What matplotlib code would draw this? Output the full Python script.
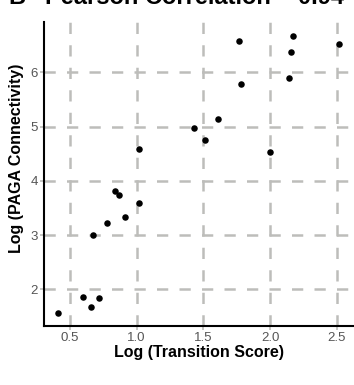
import matplotlib
matplotlib.use('Agg')
from matplotlib import pyplot as plt

plt.rcParams['font.family'] = ['Liberation Sans', 'DejaVu Sans']

# Log transition score vs log PAGA connectivity
log_transition = [1.77, 2.175, 2.156, 2.52, 1.78, 2.145, 1.61, 1.43, 1.513, 1.02, 2.003,
                  0.84, 0.865, 1.015, 0.915, 0.778, 0.673, 0.598, 0.718, 0.658, 0.41]
log_paga = [6.58, 6.67, 6.37, 6.52, 5.79, 5.90, 5.14, 4.97, 4.75, 4.58, 4.54,
            3.82, 3.74, 3.60, 3.33, 3.23, 3.00, 1.86, 1.84, 1.67, 1.56]

x_ticks = [0.5, 1.0, 1.5, 2.0, 2.5]
y_ticks = [2, 3, 4, 5, 6]

fig = plt.figure(figsize=(3.54, 3.85), dpi=100)
ax = fig.add_axes([44.3/354, 59.3/385, (354-44.3)/354, (325.7-22)/385])

ax.scatter(log_transition, log_paga, s=22, color='black', zorder=3, linewidths=0)

ax.set_xlim(0.307, 2.63)
ax.set_ylim(1.33, 6.93)
ax.set_xticks(x_ticks)
ax.set_xticklabels(['0.5', '1.0', '1.5', '2.0', '2.5'])
ax.set_yticks(y_ticks)

ax.grid(True, color='#BDBDBA', linewidth=1.8, linestyle=(0, (4.5, 4.5)), zorder=0)
ax.set_axisbelow(True)

for s in ['top', 'right']:
    ax.spines[s].set_visible(False)
for s in ['left', 'bottom']:
    ax.spines[s].set_linewidth(1.5)
    ax.spines[s].set_color('black')

ax.tick_params(axis='both', colors='#BDBDBA', length=3, width=1.2, pad=1.5,
               labelsize=9.5, labelcolor='#555555')

ax.set_xlabel('Log (Transition Score)', fontsize=11.5, fontweight='bold', labelpad=1)
ax.set_ylabel('Log (PAGA Connectivity)', fontsize=11.5, fontweight='bold')
ax.yaxis.set_label_coords(-0.065, 0.55)

# title, mostly cut off at the top edge
fig.text(8/354, 1 - 4/385, 'B', fontsize=17, fontweight='bold', va='baseline')
fig.text(45/354, 1 - 4/385, 'Pearson Correlation = 0.94', fontsize=17,
         fontweight='bold', va='baseline')

fig.savefig('out.png', dpi=100)
